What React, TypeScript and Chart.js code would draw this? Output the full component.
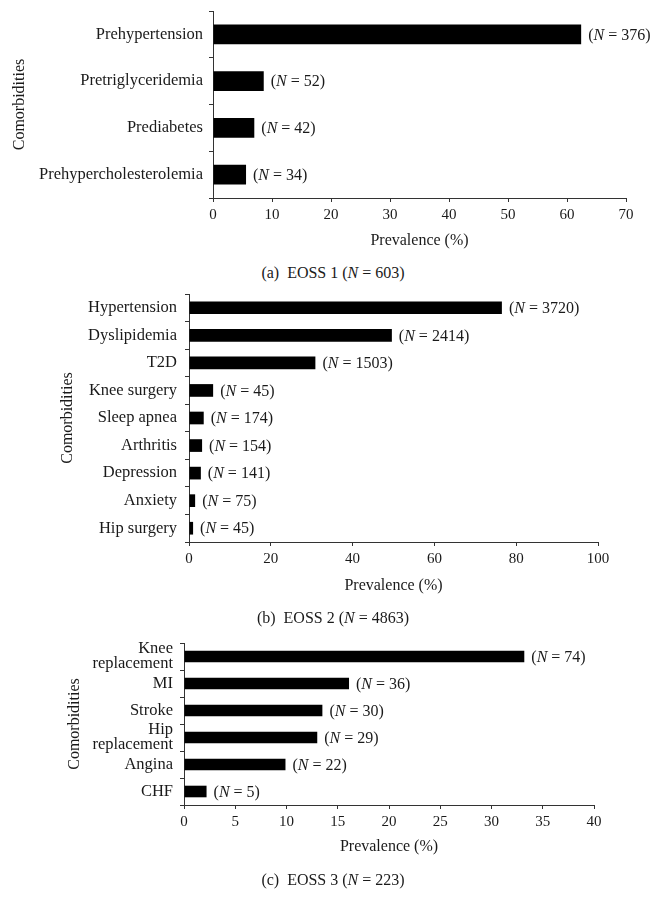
import React, { useEffect, useRef } from 'react';
import { Chart, registerables } from 'chart.js';

Chart.register(...registerables);

const FONT = '"Liberation Serif", "Times New Roman", serif';
const TEXT = '#1a1a1a';
const AXIS = '#333333';

// ---- Data: (a) EOSS 1 ----
const eoss1Categories = ['Prehypertension', 'Pretriglyceridemia', 'Prediabetes', 'Prehypercholesterolemia'];
const eoss1Prevalence = [62.4, 8.6, 7.0, 5.6];
const eoss1Counts = [376, 52, 42, 34];
const eoss1AxisMax = 70;
const eoss1AxisStep = 10;

// ---- Data: (b) EOSS 2 ----
const eoss2Categories = ['Hypertension', 'Dyslipidemia', 'T2D', 'Knee surgery', 'Sleep apnea', 'Arthritis', 'Depression', 'Anxiety', 'Hip surgery'];
const eoss2Prevalence = [76.5, 49.6, 30.9, 5.9, 3.6, 3.2, 2.9, 1.5, 1.0];
const eoss2Counts = [3720, 2414, 1503, 45, 174, 154, 141, 75, 45];
const eoss2AxisMax = 100;
const eoss2AxisStep = 20;

// ---- Data: (c) EOSS 3 ----
const eoss3Categories: (string | string[])[] = [['Knee', 'replacement'], 'MI', 'Stroke', ['Hip', 'replacement'], 'Angina', 'CHF'];
const eoss3Prevalence = [33.2, 16.1, 13.5, 13.0, 9.9, 2.2];
const eoss3Counts = [74, 36, 30, 29, 22, 5];
const eoss3AxisMax = 40;
const eoss3AxisStep = 5;

const xTitle = 'Prevalence (%)';
const yTitle = 'Comorbidities';

const nLabelPlugin = {
  id: 'nLabels',
  afterDatasetsDraw(chart: any, _args: any, opts: any) {
    const counts: number[] = opts.counts || [];
    const ctx = chart.ctx;
    const meta = chart.getDatasetMeta(0);
    ctx.save();
    ctx.fillStyle = TEXT;
    ctx.textBaseline = 'middle';
    ctx.textAlign = 'left';
    meta.data.forEach((bar: any, i: number) => {
      let x = bar.x + opts.gap;
      const y = bar.y + 1;
      const parts: [string, boolean][] = [['(', false], ['N', true], [' = ' + counts[i] + ')', false]];
      parts.forEach(([t, it]) => {
        ctx.font = (it ? 'italic ' : '') + '16px ' + FONT;
        ctx.fillText(t, x, y);
        x += ctx.measureText(t).width;
      });
    });
    ctx.restore();
  },
};

type PanelProps = {
  labels: (string | string[])[];
  values: number[];
  counts: number[];
  max: number;
  step: number;
  canvasTop: number;
  canvasHeight: number;
  areaTop: number;
  areaBottom: number;
  areaLeft: number;
  areaRight: number;
  barPct: number;
  yTitlePad: number;
  xTitlePad: number;
  tickPad: number;
};

function Panel(p: PanelProps) {
  const ref = useRef<HTMLCanvasElement>(null);
  useEffect(() => {
    const xHeight = p.canvasHeight - (p.areaBottom - p.canvasTop);
    const chart = new Chart(ref.current as HTMLCanvasElement, {
      type: 'bar',
      data: {
        labels: p.labels as any,
        datasets: [
          {
            data: p.values,
            backgroundColor: '#000000',
            borderWidth: 0,
            barPercentage: p.barPct,
            categoryPercentage: 1,
          },
        ],
      },
      options: {
        indexAxis: 'y',
        responsive: false,
        animation: false,
        devicePixelRatio: 1,
        layout: { padding: { left: 0, top: p.areaTop - p.canvasTop, right: 666 - p.areaRight, bottom: 0 } },
        plugins: {
          legend: { display: false },
          tooltip: { enabled: false },
          title: { display: false },
          nLabels: { counts: p.counts, gap: 7 },
        } as any,
        scales: {
          x: {
            type: 'linear',
            min: 0,
            max: p.max,
            ticks: {
              stepSize: p.step,
              color: TEXT,
              font: { family: FONT, size: 15 },
              padding: 4.5,
              maxRotation: 0,
              autoSkip: false,
            },
            grid: { drawOnChartArea: false, drawTicks: true, tickLength: 4, color: AXIS },
            border: { display: true, color: AXIS, width: 1 },
            title: {
              display: true,
              text: xTitle,
              color: TEXT,
              font: { family: FONT, size: 16 },
              padding: { top: 0, bottom: p.xTitlePad },
            },
            afterFit: (s: any) => {
              s.height = xHeight;
              s.paddingLeft = 0;
              s.paddingRight = 0;
            },
          },
          y: {
            type: 'category',
            ticks: {
              color: TEXT,
              font: { family: FONT, size: 16.5, lineHeight: 0.9 },
              padding: p.tickPad,
              autoSkip: false,
            },
            grid: { drawOnChartArea: false, drawTicks: true, tickLength: 4, color: AXIS, offset: true },
            border: { display: true, color: AXIS, width: 1 },
            title: {
              display: true,
              text: yTitle,
              color: TEXT,
              font: { family: FONT, size: 16 },
              padding: { top: p.yTitlePad, bottom: 0 },
            },
            afterFit: (s: any) => {
              s.width = p.areaLeft;
              s.paddingTop = 0;
              s.paddingBottom = 0;
            },
          },
        } as any,
      },
      plugins: [nLabelPlugin as any],
    });
    return () => chart.destroy();
  }, []);
  return (
    <canvas
      ref={ref}
      width={666}
      height={p.canvasHeight}
      style={{ position: 'absolute', left: 0, top: p.canvasTop, width: 666, height: p.canvasHeight }}
    />
  );
}

function Caption({ top, tag, stage, n }: { top: number; tag: string; stage: number; n: number }) {
  return (
    <div
      style={{
        position: 'absolute',
        left: 0,
        top: top - 10,
        width: 666,
        height: 20,
        lineHeight: '20px',
        textAlign: 'center',
        fontFamily: FONT,
        fontSize: 16,
        color: TEXT,
        whiteSpace: 'pre',
      }}
    >
      {'(' + tag + ')  EOSS ' + stage + ' ('}
      <i>N</i>
      {' = ' + n + ')'}
    </div>
  );
}

export default function App() {
  return (
    <div style={{ position: 'absolute', left: 0, top: 0, width: 666, height: 897, background: '#ffffff' }}>
      <Panel
        labels={eoss1Categories}
        values={eoss1Prevalence}
        counts={eoss1Counts}
        max={eoss1AxisMax}
        step={eoss1AxisStep}
        canvasTop={0}
        canvasHeight={260}
        areaTop={11}
        areaBottom={198}
        areaLeft={213}
        areaRight={626}
        barPct={0.42}
        yTitlePad={10}
        xTitlePad={9.4}
        tickPad={6}
      />
      <Caption top={273} tag="a" stage={1} n={603} />
      <Panel
        labels={eoss2Categories}
        values={eoss2Prevalence}
        counts={eoss2Counts}
        max={eoss2AxisMax}
        step={eoss2AxisStep}
        canvasTop={280}
        canvasHeight={330}
        areaTop={294}
        areaBottom={542}
        areaLeft={189}
        areaRight={598}
        barPct={0.46}
        yTitlePad={58}
        xTitlePad={14.4}
        tickPad={8}
      />
      <Caption top={618} tag="b" stage={2} n={4863} />
      <Panel
        labels={eoss3Categories}
        values={eoss3Prevalence}
        counts={eoss3Counts}
        max={eoss3AxisMax}
        step={eoss3AxisStep}
        canvasTop={630}
        canvasHeight={240}
        areaTop={643}
        areaBottom={805}
        areaLeft={184}
        areaRight={594}
        barPct={0.43}
        yTitlePad={65}
        xTitlePad={13.4}
        tickPad={7}
      />
      <Caption top={880} tag="c" stage={3} n={223} />
    </div>
  );
}
